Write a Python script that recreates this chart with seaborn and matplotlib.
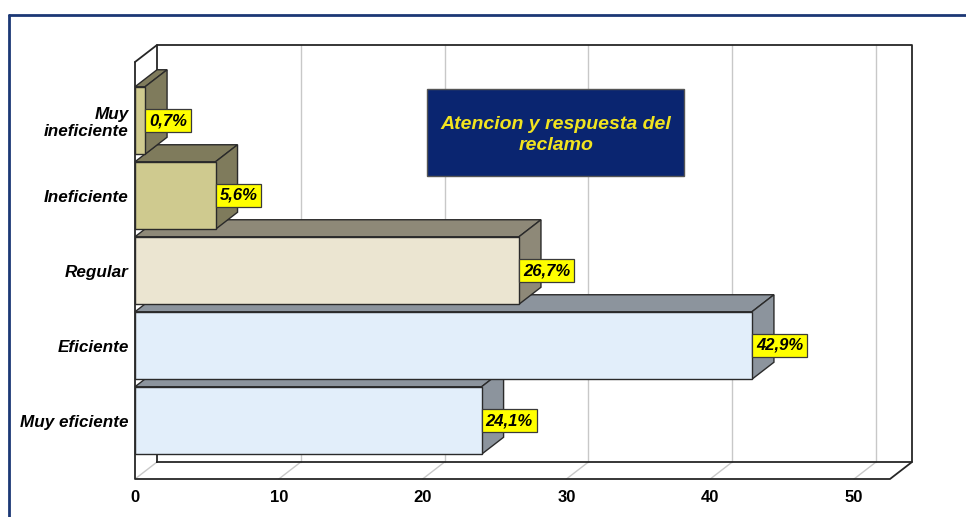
import matplotlib
matplotlib.use("Agg")
import matplotlib.pyplot as plt
import pandas as pd
import seaborn as sns
from matplotlib.patches import Polygon, Rectangle
from matplotlib.lines import Line2D

# Survey results: rating of complaint handling (percent of respondents)
categories = ["Muy\nineficiente", "Ineficiente", "Regular", "Eficiente", "Muy eficiente"]
percentages = [0.7, 5.6, 26.7, 42.9, 24.1]
x_ticks = [0, 10, 20, 30, 40, 50]
title = "Atencion y respuesta del\nreclamo"

# Front faces and shaded (top/side) faces of each 3D bar
face_colors = ["#CFCA8F", "#CFCA8F", "#EBE5D1", "#E2EEFA", "#E2EEFA"]
shade_colors = ["#7F7B5C", "#7F7B5C", "#8E8978", "#8C949D", "#8C949D"]

sns.set_theme(style="white")
plt.rcParams["font.family"] = ["Liberation Sans", "DejaVu Sans"]

W, H, DPI = 966, 517, 100
fig = plt.figure(figsize=(W / DPI, H / DPI), dpi=DPI)
fig.patch.set_facecolor("white")

# Front plane of the 3D box
ax_left, ax_top, ax_w, ax_h = 135, 62, 755, 417
ax = fig.add_axes([ax_left / W, 1 - (ax_top + ax_h) / H, ax_w / W, ax_h / H])
ax.set_facecolor("none")

df = pd.DataFrame({"categoria": categories, "porcentaje": percentages})
sns.barplot(
    data=df, x="porcentaje", y="categoria", hue="categoria",
    palette=face_colors, legend=False, width=0.9, orient="h",
    saturation=1, edgecolor="#2a2a2a", linewidth=1.0, ax=ax,
)

XMAX = 52.5
Y_LO, Y_HI = 4.78, -0.78  # inverted category axis
ax.set_xlim(0, XMAX)
ax.set_ylim(Y_LO, Y_HI)

# Depth of the 3D box in data units (22 px right, 17 px up)
DX = 22 / (ax_w / XMAX)
DY = 17 / (ax_h / (Y_LO - Y_HI))

line_kw = dict(color="#262626", lw=1.3, clip_on=False, zorder=2, solid_capstyle="round")
grid_kw = dict(color="#c8c8c8", lw=1.0, clip_on=False, zorder=1)

# Back wall gridlines and floor gridlines
for t in x_ticks:
    ax.plot([t, t + DX], [Y_LO, Y_LO - DY], **grid_kw)
    if t > 0:
        ax.plot([t + DX, t + DX], [Y_LO - DY, Y_HI - DY], **grid_kw)

# Box outline: back wall, floor and left wall edges
ax.plot([DX, XMAX + DX, XMAX + DX, DX, DX],
        [Y_LO - DY, Y_LO - DY, Y_HI - DY, Y_HI - DY, Y_LO - DY], **line_kw)
ax.plot([0, 0, XMAX, XMAX + DX], [Y_HI, Y_LO, Y_LO, Y_LO - DY], **line_kw)
ax.plot([0, DX], [Y_HI, Y_HI - DY], **line_kw)

# Extrude each seaborn bar into a 3D block
n = len(categories)
for patch in ax.patches:
    yc = patch.get_y() + patch.get_height() / 2
    i = int(round(yc))
    x1 = patch.get_x() + patch.get_width()
    yt = patch.get_y()
    yb = patch.get_y() + patch.get_height()
    base_z = 5 + 3 * (n - i)
    patch.set_zorder(base_z + 1)
    patch.set_clip_on(False)
    top = Polygon([(0, yt), (x1, yt), (x1 + DX, yt - DY), (DX, yt - DY)],
                  closed=True, fc=shade_colors[i], ec="#2a2a2a", lw=1.0,
                  zorder=base_z, clip_on=False)
    side = Polygon([(x1, yt), (x1, yb), (x1 + DX, yb - DY), (x1 + DX, yt - DY)],
                   closed=True, fc=shade_colors[i], ec="#2a2a2a", lw=1.0,
                   zorder=base_z, clip_on=False)
    ax.add_patch(top)
    ax.add_patch(side)

# Value labels in yellow boxes at the end of each bar
label_size = 12
pad_frac = 0.24
pad_data = pad_frac * label_size * DPI / 72 / (ax_w / XMAX)
for i, v in enumerate(percentages):
    label = f"{v:.1f}".replace(".", ",") + "%"
    ax.text(v + pad_data, i, label, ha="left", va="center",
            fontsize=label_size, fontweight="bold", fontstyle="italic",
            color="black", zorder=40, clip_on=False,
            bbox=dict(boxstyle=f"square,pad={pad_frac}", fc="#FFFF00",
                      ec="#3a3a3a", lw=0.9))

for s in ax.spines.values():
    s.set_visible(False)
ax.grid(False)
ax.set_xlabel("")
ax.set_ylabel("")
ax.set_xticks(x_ticks)
ax.set_xticklabels([str(t) for t in x_ticks], fontsize=12, fontweight="bold", color="black")
ax.tick_params(axis="x", length=0, pad=8)
ax.tick_params(axis="y", length=0, pad=4.5)
for lbl in ax.get_yticklabels():
    lbl.set_fontsize(12.3)
    lbl.set_fontweight("bold")
    lbl.set_fontstyle("italic")
    lbl.set_color("black")
    lbl.set_horizontalalignment("right")
    lbl.set_multialignment("right")
    lbl.set_linespacing(1.15)

# Title box
fig.add_artist(Rectangle((427 / W, 1 - 176 / H), 257 / W, 87 / H,
                         transform=fig.transFigure, fc="#0A2570", ec="#555555",
                         lw=1.0, zorder=50))
fig.text(556 / W, 1 - 135 / H, title, ha="center", va="center",
         fontsize=14, fontweight="bold", fontstyle="italic", color="#F2E41F",
         linespacing=1.3, zorder=51)

# Outer frame
frame_kw = dict(transform=fig.transFigure, color="#1C3875", lw=2.0)
fig.add_artist(Line2D([9 / W, 1], [1 - 15 / H, 1 - 15 / H], **frame_kw))
fig.add_artist(Line2D([9 / W, 9 / W], [0, 1 - 15 / H], **frame_kw))

fig.savefig("out.png", dpi=DPI)
